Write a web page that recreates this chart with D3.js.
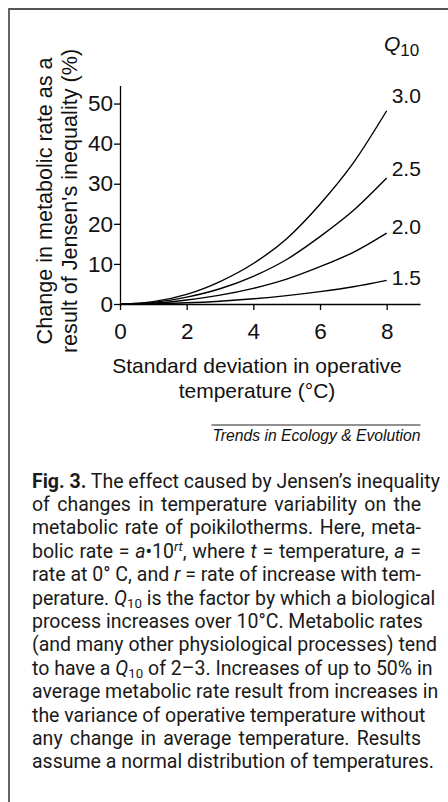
<!DOCTYPE html>
<html>
<head>
<meta charset="utf-8">
<script src="https://cdn.jsdelivr.net/npm/d3@7"></script>
<style>
  body { margin: 0; background: #fff; }
  #wrap { position: relative; width: 448px; height: 802px; overflow: hidden; }
  #visu { position: absolute; left: 0; top: 0; }
  #caption { position: absolute; left: 32px; top: 0; width: 389px;
    font-family: Roboto, "Liberation Sans", sans-serif; font-size: 19.5px; color: #1a1a1a; }
  #caption .ln { position: absolute; left: 0; width: 389px; line-height: 23.4px;
    white-space: nowrap; text-align: justify; text-align-last: justify; }
  #caption .ln.last { text-align-last: left; }
  #caption sup, #caption sub { font-size: 0.68em; line-height: 0; }
  #caption sup { vertical-align: 0.5em; }
  #caption sub { vertical-align: -0.25em; }
</style>
</head>
<body>
<div id="wrap">
  <svg id="visu" width="448" height="802"></svg>
  <div id="caption"></div>
</div>
<script>
// values
var sigma = [0, 1, 2, 3, 4, 5, 6, 7, 8];
var q30 = [0, 0.6, 2.4, 5.6, 10.1, 16.3, 24.9, 35.2, 48.2];
var q25 = [0, 0.4, 1.7, 3.8, 6.9, 11.1, 16.8, 23.3, 31.4];
var q20 = [0, 0.2, 1.0, 2.2, 3.9, 6.2, 9.3, 12.9, 17.7];
var q15 = [0, 0.1, 0.3, 0.7, 1.3, 2.1, 3.1, 4.3, 5.9];
var seriesNames = ["3.0", "2.5", "2.0", "1.5"];
var xTicks = [0, 2, 4, 6, 8];
var yTicks = [0, 10, 20, 30, 40, 50];

var captionLines = [
  '<b>Fig. 3.</b> The effect caused by Jensen\u2019s inequality',
  'of changes in temperature variability on the',
  'metabolic rate of poikilotherms. Here, meta-',
  'bolic rate = <i>a</i>\u202210<sup><i>rt</i></sup>, where <i>t</i> = temperature, <i>a</i> =',
  'rate at 0\u00b0 C, and <i>r</i> = rate of increase with tem-',
  'perature. <i>Q</i><sub>10</sub> is the factor by which a biological',
  'process increases over 10\u00b0C. Metabolic rates',
  '(and many other physiological processes) tend',
  'to have a <i>Q</i><sub>10</sub> of 2\u20133. Increases of up to 50% in',
  'average metabolic rate result from increases in',
  'the variance of operative temperature without',
  'any change in average temperature. Results',
  'assume a normal distribution of temperatures.'
];

var series = [q30, q25, q20, q15].map(function(vals, i) {
  return { name: seriesNames[i], values: vals.map(function(v, j) { return { s: sigma[j], v: v }; }) };
});

var vis = d3.select("#visu"),
    FONT = '"Liberation Sans", Arial, sans-serif',
    x = d3.scaleLinear().domain([0, 9]).range([120, 420]),
    y = d3.scaleLinear().domain([0, 54.5]).range([304, 85.5]);

vis.append("rect").attr("width", 448).attr("height", 802).attr("fill", "#fff");

// frame (top + left only, the rest is cropped)
vis.append("path")
  .attr("d", "M9,802V9H448")
  .attr("fill", "none")
  .attr("stroke", "#555")
  .attr("stroke-width", 1.8);

var xAxis = vis.append("g")
  .attr("transform", "translate(0," + y(0) + ")")
  .call(d3.axisBottom(x).tickValues(xTicks).tickSize(6).tickSizeOuter(0).tickPadding(13));

var yAxis = vis.append("g")
  .attr("transform", "translate(" + x(0) + ",0)")
  .call(d3.axisLeft(y).tickValues(yTicks).tickSize(6).tickSizeOuter(0).tickPadding(1));

[xAxis, yAxis].forEach(function(g) {
  g.attr("font-family", FONT).attr("font-size", 22.5);
  g.selectAll("path, line").attr("stroke", "#000").attr("stroke-width", 1.3);
  g.selectAll("text").attr("fill", "#111");
});

var lineGen = d3.line()
  .x(function(d) { return x(d.s); })
  .y(function(d) { return y(d.v); })
  .curve(d3.curveMonotoneX);

vis.selectAll("path.curve")
  .data(series)
  .enter().append("path")
  .attr("class", "curve")
  .attr("d", function(d) { return lineGen(d.values); })
  .attr("fill", "none")
  .attr("stroke", "#000")
  .attr("stroke-width", 1.4);

// labels at the ends, lifted more for the steeper curves
vis.selectAll("text.lab")
  .data(series)
  .enter().append("text")
  .attr("class", "lab")
  .attr("x", x(8) + 5)
  .attr("y", function(d) {
    var n = d.values.length, a = d.values[n - 2], b = d.values[n - 1];
    var slope = (y(a.v) - y(b.v)) / (x(b.s) - x(a.s));
    return y(b.v) - 1 - 9 * slope + 7.5;
  })
  .attr("font-family", FONT)
  .attr("font-size", 21)
  .attr("fill", "#111")
  .text(function(d) { return d.name; });

var q = vis.append("text")
  .attr("x", 384).attr("y", 51)
  .attr("font-family", FONT).attr("font-size", 21).attr("fill", "#111");
q.append("tspan").attr("font-style", "italic").text("Q");
q.append("tspan").attr("font-size", 17).attr("dy", 4.5).text("10");

// axis titles
var xt = vis.append("text")
  .attr("text-anchor", "middle")
  .attr("font-family", FONT).attr("font-size", 21).attr("fill", "#111");
xt.append("tspan").attr("x", 257).attr("y", 372.5).text("Standard deviation in operative");
xt.append("tspan").attr("x", 257).attr("y", 398).text("temperature (\u00b0C)");

var yt = vis.append("text")
  .attr("transform", "translate(0,201) rotate(-90)")
  .attr("text-anchor", "middle")
  .attr("font-family", FONT).attr("font-size", 21.6).attr("fill", "#111");
yt.append("tspan").attr("x", 0).attr("y", 51.5).text("Change in metabolic rate as a");
yt.append("tspan").attr("x", 0).attr("y", 77).text("result of Jensen's inequality (%)");

// source line
vis.append("line")
  .attr("x1", 211.5).attr("x2", 420.5).attr("y1", 425).attr("y2", 425)
  .attr("stroke", "#222").attr("stroke-width", 1);
vis.append("text")
  .attr("x", 420.5).attr("y", 441)
  .attr("text-anchor", "end")
  .attr("font-family", FONT).attr("font-size", 15.7).attr("font-style", "italic")
  .attr("fill", "#111")
  .text("Trends in Ecology & Evolution");

// caption, one justified row per printed line
d3.select("#caption").selectAll("div.ln")
  .data(captionLines)
  .enter().append("div")
  .attr("class", function(d, i) { return i === captionLines.length - 1 ? "ln last" : "ln"; })
  .style("top", function(d, i) { return (469.6 + i * 23.4) + "px"; })
  .html(function(d) { return d; });
</script>
</body>
</html>
